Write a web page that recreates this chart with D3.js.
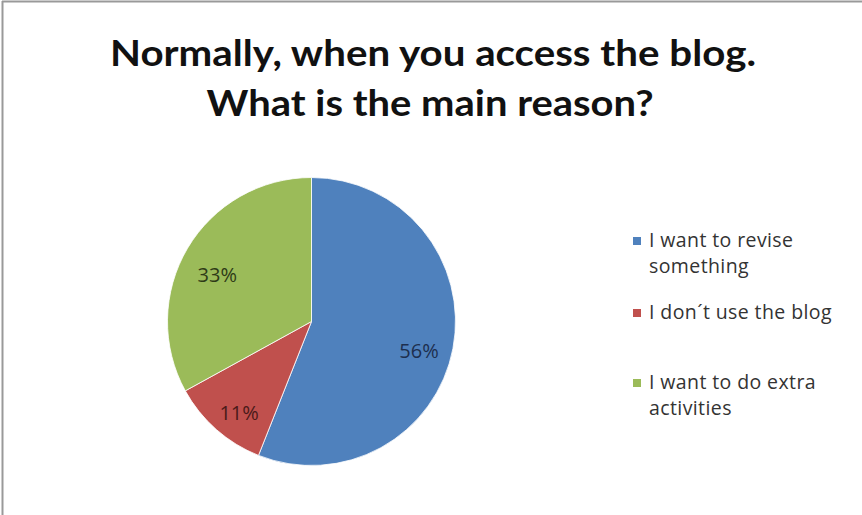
<!DOCTYPE html>
<html>
<head>
<meta charset="utf-8">
<script src="https://cdn.jsdelivr.net/npm/d3@7"></script>
<style>
  html, body { margin: 0; padding: 0; background: #fff; }
  svg { display: block; }
</style>
</head>
<body>
<svg id="chart" width="862" height="515"></svg>
<script>
// Survey answers and their shares (percent)
const categories = ["I want to revise something", "I don\u00b4t use the blog", "I want to do extra activities"];
const values = [56, 11, 33];
const legendLines = [["I want to revise", "something"], ["I don\u00b4t use the blog"], ["I want to do extra", "activities"]];
const colors = ["#4f81bd", "#c0504d", "#9bbb59"];
const labelColors = ["#1d2f4f", "#4a1a19", "#2e3a17"];
const titleLines = ["Normally, when you access the blog.", "What is the main reason?"];

const svg = d3.select("#chart");
const W = 862, H = 515;

svg.append("rect").attr("width", W).attr("height", H).attr("fill", "#fff");

// frame: top and left edges of the chart area
svg.append("line").attr("x1", 2).attr("x2", W).attr("y1", 1.5).attr("y2", 1.5)
  .attr("stroke", "#999").attr("stroke-width", 2);
svg.append("line").attr("x1", 2.5).attr("x2", 2.5).attr("y1", 1).attr("y2", H)
  .attr("stroke", "#999").attr("stroke-width", 2);

// title
const titleSpecs = [{y: 66, cx: 433, w: 646}, {y: 116, cx: 430, w: 447}];
titleLines.forEach((t, i) => {
  svg.append("text")
    .attr("x", titleSpecs[i].cx).attr("y", titleSpecs[i].y)
    .attr("text-anchor", "middle")
    .attr("font-family", "Lato, 'Open Sans', sans-serif")
    .attr("font-weight", "bold").attr("font-size", 37)
    .attr("fill", "#111")
    .attr("textLength", titleSpecs[i].w).attr("lengthAdjust", "spacingAndGlyphs")
    .text(t);
});

// pie
const cx = 311.5, cy = 321.5, R = 144;
const pie = d3.pie().sort(null).value(d => d)(values);
const arc = d3.arc().innerRadius(0).outerRadius(R);
const labelArc = d3.arc().innerRadius(R * 0.76).outerRadius(R * 0.76);

const g = svg.append("g").attr("transform", `translate(${cx},${cy})`);
g.selectAll("path.slice").data(pie).join("path")
  .attr("class", "slice")
  .attr("d", arc)
  .attr("fill", (d, i) => colors[i])
  .attr("stroke", "#fff").attr("stroke-width", 0.8);

g.selectAll("text.pct").data(pie).join("text")
  .attr("class", "pct")
  .attr("transform", d => {
    const [x, y] = labelArc.centroid(d);
    return `translate(${x},${y + 9})`;
  })
  .attr("text-anchor", "middle").attr("dy", "0.35em")
  .attr("font-family", "'Open Sans', sans-serif").attr("font-size", 20)
  .attr("fill", (d, i) => labelColors[i])
  .text(d => d.data + "%");

// legend
const legendX = 633, legendTops = [247, 319, 389];
const lg = svg.append("g");
categories.forEach((c, i) => {
  const item = lg.append("g");
  item.append("rect").attr("x", legendX).attr("y", legendTops[i] - 10)
    .attr("width", 8).attr("height", 8).attr("fill", colors[i]);
  legendLines[i].forEach((line, j) => {
    item.append("text")
      .attr("x", legendX + 16).attr("y", legendTops[i] + j * 26)
      .attr("font-family", "'Open Sans', sans-serif").attr("font-size", 19.5)
      .attr("letter-spacing", 0.4)
      .attr("fill", "#333")
      .text(line);
  });
});
</script>
</body>
</html>
